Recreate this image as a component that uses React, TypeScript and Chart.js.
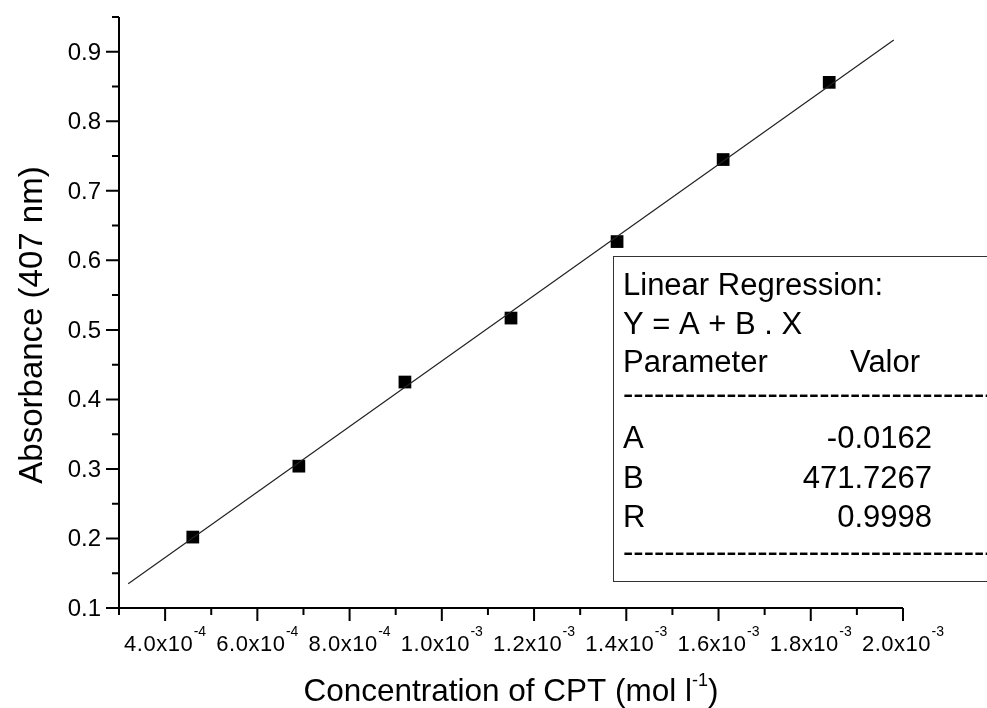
import React, { useEffect, useRef } from 'react';
import { Chart, registerables } from 'chart.js';

Chart.register(...registerables);

// ---- data ----
const concentration = [0.00046, 0.00069, 0.00092, 0.00115, 0.00138, 0.00161, 0.00184];
const absorbance = [0.202, 0.304, 0.425, 0.517, 0.627, 0.745, 0.856];
const fitX = [0.00032, 0.00198];
const fitY = [0.135, 0.917];

const yMajorTicks = [0.1, 0.2, 0.3, 0.4, 0.5, 0.6, 0.7, 0.8, 0.9];
const yTickLabels = ['0.1', '0.2', '0.3', '0.4', '0.5', '0.6', '0.7', '0.8', '0.9'];
const yMinorTicks = [0.15, 0.25, 0.35, 0.45, 0.55, 0.65, 0.75, 0.85, 0.95];
const xMajorTicks = [0.0004, 0.0006, 0.0008, 0.001, 0.0012, 0.0014, 0.0016, 0.0018, 0.002];
const xTickMantissas = ['4.0', '6.0', '8.0', '1.0', '1.2', '1.4', '1.6', '1.8', '2.0'];
const xTickExponents = ['-4', '-4', '-4', '-3', '-3', '-3', '-3', '-3', '-3'];
const xMinorTicks = [0.0003, 0.0005, 0.0007, 0.0009, 0.0011, 0.0013, 0.0015, 0.0017, 0.0019];

const xTitleMain = 'Concentration of CPT (mol l';
const xTitleSup = '-1';
const xTitleEnd = ')';
const yTitle = 'Absorbance (407 nm)';

const legendHeader = ['Linear Regression:', 'Y = A + B . X'];
const paramHeader = ['Parameter', 'Valor'];
const paramNames = ['A', 'B', 'R'];
const paramValues = ['-0.0162', '471.7267', '0.9998'];

const FONT = "'Liberation Sans', Arial, sans-serif";

const axesPlugin = {
  id: 'originAxes',
  afterDraw(chart: any) {
    const ctx: CanvasRenderingContext2D = chart.ctx;
    const xs = chart.scales.x;
    const ys = chart.scales.y;
    const { left, right, top, bottom } = chart.chartArea;
    ctx.save();
    ctx.strokeStyle = '#000';
    ctx.fillStyle = '#000';
    ctx.lineWidth = 2;
    ctx.lineCap = 'butt';

    // axis lines
    ctx.beginPath();
    ctx.moveTo(left, top);
    ctx.lineTo(left, bottom + 1);
    ctx.moveTo(left - 1, bottom);
    ctx.lineTo(right, bottom);
    ctx.stroke();

    // y ticks
    ctx.beginPath();
    yMajorTicks.forEach((v) => {
      const p = ys.getPixelForValue(v);
      ctx.moveTo(left - 13, p);
      ctx.lineTo(left, p);
    });
    yMinorTicks.forEach((v) => {
      const p = ys.getPixelForValue(v);
      ctx.moveTo(left - 7, p);
      ctx.lineTo(left, p);
    });
    // x ticks
    xMajorTicks.forEach((v) => {
      const p = xs.getPixelForValue(v);
      ctx.moveTo(p, bottom);
      ctx.lineTo(p, bottom + 13);
    });
    xMinorTicks.forEach((v) => {
      const p = xs.getPixelForValue(v);
      ctx.moveTo(p, bottom);
      ctx.lineTo(p, bottom + 7);
    });
    ctx.stroke();

    // y tick labels
    ctx.font = `24px ${FONT}`;
    ctx.textAlign = 'right';
    ctx.textBaseline = 'alphabetic';
    yMajorTicks.forEach((v, i) => {
      const p = ys.getPixelForValue(v);
      ctx.fillText(yTickLabels[i], left - 18, p + 8);
    });

    // x tick labels with superscript exponent
    const spacing = 0.5;
    const mainFont = `22px ${FONT}`;
    const supFont = `14px ${FONT}`;
    ctx.textAlign = 'left';
    xMajorTicks.forEach((v, i) => {
      const p = xs.getPixelForValue(v);
      const main = xTickMantissas[i] + 'x10';
      const sup = xTickExponents[i];
      ctx.font = mainFont;
      const chars = main.split('');
      const widths = chars.map((c) => ctx.measureText(c).width);
      const mainW = widths.reduce((a, b) => a + b, 0) + spacing * (chars.length - 1);
      ctx.font = supFont;
      const supW = ctx.measureText(sup).width;
      const total = mainW + 1 + supW;
      let x = p - total / 2;
      const base = bottom + 43;
      ctx.font = mainFont;
      chars.forEach((c, k) => {
        ctx.fillText(c, x, base);
        x += widths[k] + spacing;
      });
      x += 1 - spacing;
      ctx.font = supFont;
      ctx.fillText(sup, x, base - 15);
    });

    // x title
    const tMainFont = `31.5px ${FONT}`;
    const tSupFont = `18px ${FONT}`;
    ctx.font = tMainFont;
    const w1 = ctx.measureText(xTitleMain).width;
    const w3 = ctx.measureText(xTitleEnd).width;
    ctx.font = tSupFont;
    const w2 = ctx.measureText(xTitleSup).width;
    const tTotal = w1 + w2 + w3;
    let tx = (left + right) / 2 - tTotal / 2;
    const tBase = bottom + 93;
    ctx.font = tMainFont;
    ctx.fillText(xTitleMain, tx, tBase);
    tx += w1;
    ctx.font = tSupFont;
    ctx.fillText(xTitleSup, tx, tBase - 15);
    tx += w2;
    ctx.font = tMainFont;
    ctx.fillText(xTitleEnd, tx, tBase);

    // y title
    ctx.save();
    ctx.translate(42, 325);
    ctx.rotate(-Math.PI / 2);
    ctx.font = `33px ${FONT}`;
    ctx.textAlign = 'center';
    ctx.fillText(yTitle, 0, 0);
    ctx.restore();

    // regression box
    const bx = 613.5;
    const by = 256.5;
    const bh = 325;
    ctx.fillStyle = '#fff';
    ctx.fillRect(bx, by, chart.width - bx + 5, bh);
    ctx.strokeStyle = '#333';
    ctx.lineWidth = 1;
    ctx.strokeRect(bx, by, chart.width - bx + 5, bh);
    ctx.fillStyle = '#000';
    ctx.font = `31px ${FONT}`;
    ctx.textAlign = 'left';
    const tl = 623;
    ctx.fillText(legendHeader[0], tl, 295);
    ctx.fillText(legendHeader[1], tl, 334);
    ctx.fillText(paramHeader[0], tl, 372);
    ctx.fillText(paramHeader[1], 850, 372);
    const dashes = '-'.repeat(45);
    ctx.fillText(dashes, tl, 404);
    const rows = [448, 488, 527];
    paramNames.forEach((n, i) => {
      ctx.textAlign = 'left';
      ctx.fillText(n, tl, rows[i]);
      ctx.textAlign = 'right';
      ctx.fillText(paramValues[i], 932, rows[i]);
    });
    ctx.textAlign = 'left';
    ctx.fillText(dashes, tl, 562);
    ctx.restore();
  },
};

export default function App() {
  const canvasRef = useRef<HTMLCanvasElement | null>(null);

  useEffect(() => {
    if (!canvasRef.current) return;
    const chart = new Chart(canvasRef.current, {
      type: 'scatter',
      data: {
        datasets: [
          {
            label: 'fit',
            data: fitX.map((x, i) => ({ x, y: fitY[i] })),
            showLine: true,
            borderColor: '#222',
            borderWidth: 1.2,
            pointRadius: 0,
            pointHoverRadius: 0,
          },
          {
            label: 'Absorbance',
            data: concentration.map((x, i) => ({ x, y: absorbance[i] })),
            showLine: false,
            pointStyle: 'rect',
            pointRadius: 9,
            pointBackgroundColor: '#000',
            pointBorderColor: '#000',
            pointBorderWidth: 0,
          },
        ],
      },
      options: {
        responsive: false,
        animation: false,
        devicePixelRatio: 1,
        layout: { padding: { left: 119, right: 84, top: 17, bottom: 100 } },
        plugins: { legend: { display: false }, tooltip: { enabled: false } },
        events: [],
        scales: {
          x: { type: 'linear', min: 0.0003, max: 0.002, display: false },
          y: { type: 'linear', min: 0.1, max: 0.95, display: false },
        },
      },
      plugins: [axesPlugin],
    } as any);
    return () => chart.destroy();
  }, []);

  return (
    <div style={{ position: 'fixed', left: 0, top: 0, width: 987, height: 708, background: '#fff' }}>
      <canvas ref={canvasRef} width={987} height={708} />
    </div>
  );
}
